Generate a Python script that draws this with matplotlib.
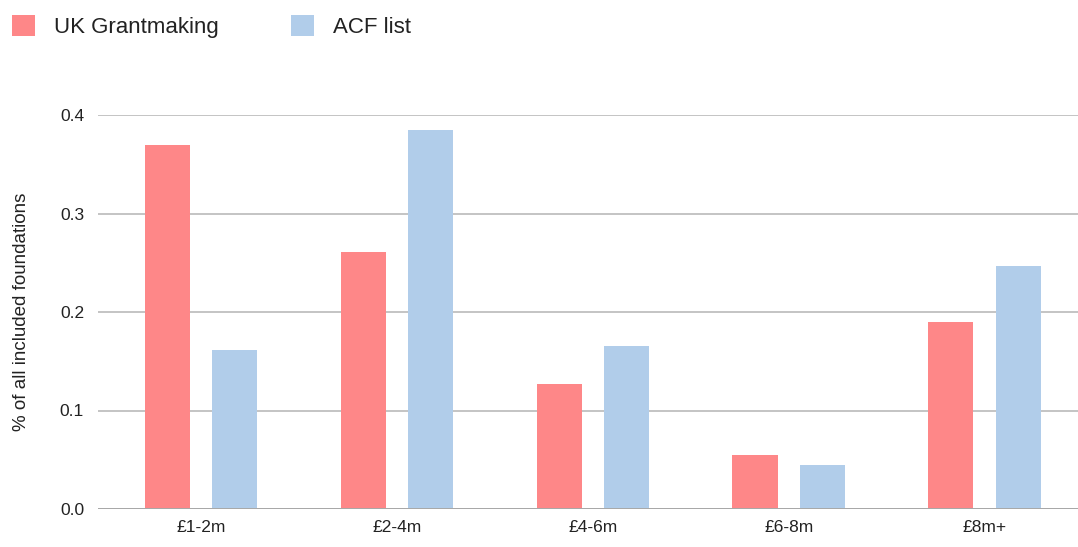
import matplotlib.pyplot as plt
import numpy as np
from matplotlib.patches import Patch

plt.rcParams['font.family'] = ['Liberation Sans', 'DejaVu Sans']

bands = ['£1-2m', '£2-4m', '£4-6m', '£6-8m', '£8m+']
uk_grantmaking = [0.370, 0.261, 0.127, 0.055, 0.190]
acf_list = [0.161, 0.385, 0.165, 0.045, 0.247]
yticks = [0.0, 0.1, 0.2, 0.3, 0.4]

red = '#fe8788'
blue = '#b1cdea'
grid_c = '#bfbfbf'

fig = plt.figure(figsize=[10.78, 5.47], dpi=100)
ax = fig.add_axes([98/1078., 38/547., 980/1078., 394/547.])

x = np.arange(len(bands))
w = 0.23
ax.bar(x - 0.172, uk_grantmaking, w, color=red, zorder=3)
ax.bar(x + 0.172, acf_list, w, color=blue, zorder=3)

ax.set_xlim(-0.526, 4.477)
ax.set_ylim(0, 0.4)
ax.set_yticks(yticks)
ax.set_yticklabels(['%.1f' % t for t in yticks])
ax.set_xticks(x)
ax.set_xticklabels(bands)
ax.tick_params(axis='y', length=0, pad=10, labelsize=12.5, labelcolor='#222222')
ax.tick_params(axis='x', length=0, pad=8, labelsize=12.5, labelcolor='#222222')
ax.yaxis.grid(True, color=grid_c, linewidth=1.3, zorder=0)
ax.set_axisbelow(True)
for s in ax.spines.values():
    s.set_visible(False)
ax.axhline(0, color='#a8a8a8', linewidth=1.4, zorder=4)

ax.set_ylabel('% of all included foundations', fontsize=13.5, color='#222222')
ax.yaxis.set_label_coords(-0.0694, 0.5)

handles = [Patch(facecolor=red, edgecolor='none', label='UK Grantmaking'),
           Patch(facecolor=blue, edgecolor='none', label='ACF list')]
fig.legend(handles=handles, loc='upper left', bbox_to_anchor=(12/1078., 1 - 15/547.),
           ncol=2, frameon=False, fontsize=16, handlelength=1.05, handleheight=1.05,
           handletextpad=0.82, columnspacing=3.27, borderpad=0, borderaxespad=0,
           labelcolor='#222222')

plt.savefig('out.png', dpi=100)
